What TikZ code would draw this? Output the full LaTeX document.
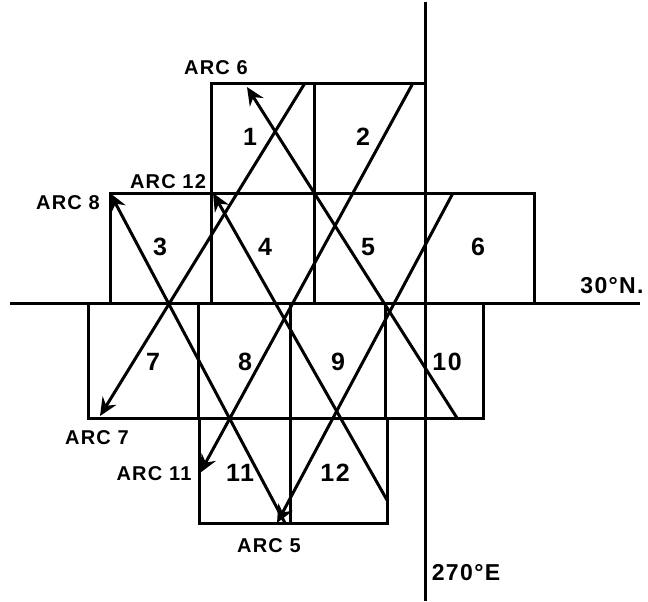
\documentclass[tikz,border=0pt]{standalone}
\usepackage{fontspec}
\setmainfont{Liberation Sans}
\newfontfamily\leroy[LetterSpace=6]{Liberation Sans}
\usetikzlibrary{arrows.meta}
\tikzset{
 gridline/.style={line width=1.5pt},
 tileedge/.style={line width=1.5pt},
 tilenum/.style={font=\leroy\bfseries\fontsize{12.5}{14}\selectfont, inner sep=0pt},
 gridlabel/.style={font=\leroy\bfseries\fontsize{11.5}{13}\selectfont, inner sep=0pt},
 arcline/.style={line width=1.5pt, -{Stealth[length=9pt, width=8pt, inset=3pt]}},
 arclabel/.style={font=\leroy\bfseries\fontsize{10}{12}\selectfont, inner sep=0pt},
}

\begin{document}
\begin{tikzpicture}[x=0.5pt, y=-0.5pt]
\useasboundingbox (0,0) rectangle (648,601);
% 30 N parallel and 270 E meridian
\coordinate (latW) at (10,303);
\coordinate (latE) at (640,303);
\coordinate (lonN) at (425,2);
\coordinate (lonS) at (425,601);
\draw[gridline] (latW) -- (latE);
\draw[gridline] (lonN) -- (lonS);
\node[gridlabel] (latlbl) at (612,286) {30°N.};
\node[gridlabel] (lonlbl) at (466,573) {270°E};
% tiles: number / corners / label position
\foreach \n/\xa/\ya/\xb/\yb/\lx/\ly in {%
 1/211/83/314/193/250/137, 2/314/83/425/193/363/137,
 3/110/193/211/303/160/247, 4/211/193/314/303/265/247,
 5/314/193/425/303/368/247, 6/425/193/534/303/478/247,
 7/88/303/198/418/153/362, 8/198/303/290/418/245/362,
 9/290/303/385/418/338/362, 10/385/303/483/418/447/362,
 11/199/418/290/523/240/473, 12/290/418/387/523/335/473%
}{
 \draw[tileedge] (\xa,\ya) rectangle (\xb,\yb);
 \node[tilenum] (t\n) at (\lx,\ly) {\n};
}
% arc tracks: start / arrow end / label position
\foreach \a/\xa/\ya/\xb/\yb/\lx/\ly in {%
 6/457/418/247/87/216/68, 7/305/83/100/416/97/438,
 11/413/83/200/473/154/474, 12/387/500/213/193/168/182,
 8/285/523/110/193/68/203, 5/453/193/277/523/269/546%
}{
 \coordinate (arc\a from) at (\xa,\ya);
 \coordinate (arc\a to) at (\xb,\yb);
 \draw[arcline] (arc\a from) -- (arc\a to);
 \node[arclabel] (arc\a lbl) at (\lx,\ly) {ARC \a};
}
\end{tikzpicture}
\end{document}
